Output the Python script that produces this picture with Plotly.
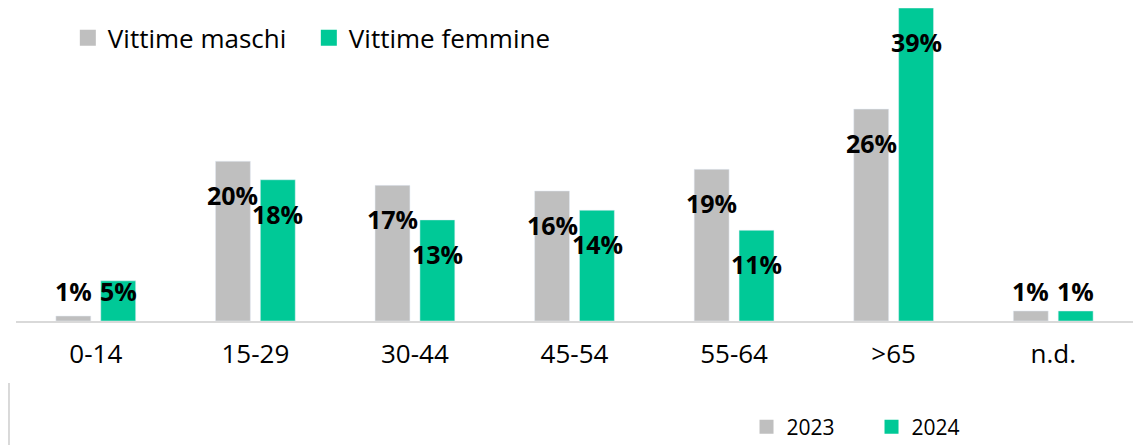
import plotly.graph_objects as go

categorie = ["0-14", "15-29", "30-44", "45-54", "55-64", ">65", "n.d."]
maschi = [0.62, 19.9, 16.9, 16.2, 18.9, 26.4, 1.25]
femmine = [5.0, 17.6, 12.6, 13.8, 11.3, 39.0, 1.25]
etichette_maschi = ["1%", "20%", "17%", "16%", "19%", "26%", "1%"]
etichette_femmine = ["5%", "18%", "13%", "14%", "11%", "39%", "1%"]
anni = ["2023", "2024"]

GRIGIO = "#bfbfbf"
VERDE = "#00c997"
FONT = "Open Sans"

fig = go.Figure()
fig.add_trace(go.Bar(x=categorie, y=maschi, name="Vittime maschi",
                     marker_color=GRIGIO, showlegend=False))
fig.add_trace(go.Bar(x=categorie, y=femmine, name="Vittime femmine",
                     marker_color=VERDE, showlegend=False))

# voci di legenda (quadrati più grandi del simbolo standard delle barre)
for nome, col in [("Vittime maschi", GRIGIO), ("Vittime femmine", VERDE)]:
    fig.add_trace(go.Scatter(x=[None], y=[None], mode="markers", name=nome,
                             marker=dict(symbol="square", size=16, color=col),
                             legend="legend"))
for nome, col in zip(anni, [GRIGIO, VERDE]):
    fig.add_trace(go.Scatter(x=[None], y=[None], mode="markers", name=nome,
                             marker=dict(symbol="square", size=14, color=col),
                             legend="legend2"))

# etichette: ~34 px sotto la cima della barra, mai troppo vicino alla base
k = 313 / 39.0
for serie, testi, dx in [(maschi, etichette_maschi, -22.5), (femmine, etichette_femmine, 22.5)]:
    for c, v, t in zip(categorie, serie, testi):
        fig.add_annotation(x=c, y=max(v - 34 / k, 30 / k), text=t, showarrow=False,
                           xshift=dx, yanchor="middle",
                           font=dict(family=FONT, size=25, color="black", weight="bold"))

fig.add_shape(type="line", xref="paper", yref="paper", x0=-0.0063, x1=-0.0063,
              y0=-0.198, y1=-0.45, line=dict(color="#d9d9d9", width=2))

fig.update_layout(
    width=1145, height=445,
    margin=dict(l=8, r=20, t=0, b=132, autoexpand=False),
    paper_bgcolor="white", plot_bgcolor="white",
    barmode="group", bargap=0.4375, bargroupgap=0.2222,
    font=dict(family=FONT, color="black"),
    legend=dict(orientation="h", x=0.0464, y=0.905, xanchor="left", yanchor="middle",
                font=dict(size=26, family=FONT), entrywidth=196, bgcolor="rgba(0,0,0,0)"),
    legend2=dict(orientation="h", x=0.654, y=0.058, yref="container",
                 xanchor="left", yanchor="middle",
                 font=dict(size=21, family=FONT), entrywidth=80, bgcolor="rgba(0,0,0,0)"),
    xaxis=dict(showline=True, linecolor="#d9d9d9", linewidth=2, ticks="outside",
               ticklen=9, tickcolor="white", tickfont=dict(size=26, family=FONT),
               showgrid=False, fixedrange=True, automargin=False),
    yaxis=dict(range=[0, 39.0], visible=False, showgrid=False, fixedrange=True),
)

fig.write_html("out.html")
